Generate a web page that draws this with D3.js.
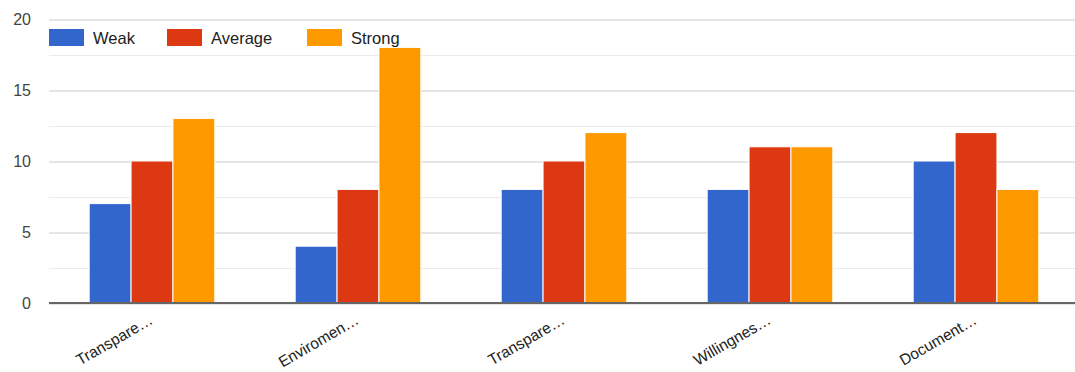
<!DOCTYPE html>
<html>
<head>
<meta charset="utf-8">
<script src="https://cdn.jsdelivr.net/npm/d3@7"></script>
<style>
  html, body { margin: 0; padding: 0; background: #fff; }
  svg { display: block; font-family: Arial, "Liberation Sans", sans-serif; }
</style>
</head>
<body>
<svg id="chart" width="1075" height="372"></svg>
<script>
// Grouped column chart: three rating levels per criterion
const categories = ["Transpare…", "Enviromen…", "Transpare…", "Willingnes…", "Document…"];
const seriesNames = ["Weak", "Average", "Strong"];
const weak = [7, 4, 8, 8, 10];
const average = [10, 8, 10, 11, 12];
const strong = [13, 18, 12, 11, 8];
const yTicks = [0, 5, 10, 15, 20];
const colors = ["#3366cc", "#dc3912", "#ff9900"];

const seriesValues = [weak, average, strong];
const rows = categories.map((c, i) => ({
  key: i,
  label: c,
  values: seriesValues.map((s, j) => ({ series: seriesNames[j], value: s[i], idx: j }))
}));

const svg = d3.select("#chart");
const plot = { left: 49, right: 1079, top: 19, bottom: 303 };

const x0 = d3.scaleBand()
  .domain(rows.map(r => r.key))
  .range([plot.left, plot.right])
  .paddingInner(0.39)
  .paddingOuter(0.195);

const x1 = d3.scaleBand()
  .domain(seriesNames)
  .range([0, x0.bandwidth()])
  .padding(0);

const y = d3.scaleLinear().domain([0, 20]).range([plot.bottom, plot.top]);

// Minor gridlines every 2.5
const minor = d3.range(2.5, 20, 5);
svg.append("g").selectAll("line").data(minor).join("line")
  .attr("x1", plot.left).attr("x2", 1075)
  .attr("y1", d => Math.round(y(d)) + 0.5).attr("y2", d => Math.round(y(d)) + 0.5)
  .attr("stroke", "#ebebeb").attr("stroke-width", 1);

// Major gridlines and labels
const yAxis = d3.axisLeft(y).tickValues(yTicks).tickSize(-(1075 - plot.left)).tickPadding(18);
const gy = svg.append("g").attr("transform", `translate(${plot.left},0)`).call(yAxis);
gy.select(".domain").remove();
gy.selectAll(".tick line").attr("stroke", "#cccccc")
  .attr("transform", "translate(0,0.5)");
gy.selectAll(".tick text")
  .attr("fill", "#444").attr("font-size", 16)
  .attr("font-family", "Arial, 'Liberation Sans', sans-serif");

// Bars
const groups = svg.append("g").selectAll("g").data(rows).join("g")
  .attr("transform", d => `translate(${x0(d.key)},0)`);
groups.selectAll("rect").data(d => d.values).join("rect")
  .attr("x", d => x1(d.series))
  .attr("y", d => y(d.value))
  .attr("width", x1.bandwidth())
  .attr("height", d => y(0) - y(d.value))
  .attr("fill", d => colors[d.idx])
  .attr("stroke", "#fff").attr("stroke-width", 1);

// Baseline
svg.append("line")
  .attr("x1", plot.left).attr("x2", 1075)
  .attr("y1", y(0)).attr("y2", y(0))
  .attr("stroke", "#666").attr("stroke-width", 2);

// Category labels, rotated
const xAxis = d3.axisBottom(x0).tickFormat(k => categories[k]).tickSize(0).tickPadding(0);
const gx = svg.append("g").attr("transform", `translate(0,${plot.bottom})`).call(xAxis);
gx.select(".domain").remove();
gx.selectAll(".tick text")
  .attr("fill", "#222").attr("font-size", 15.5)
  .attr("font-family", "Arial, 'Liberation Sans', sans-serif")
  .attr("text-anchor", "end")
  .attr("dy", null)
  .attr("transform", "translate(2,20) rotate(-30)");

// Legend
const legendX = [49, 167, 307];
const legend = svg.append("g").selectAll("g").data(seriesNames).join("g")
  .attr("transform", (d, i) => `translate(${legendX[i]},29)`);
legend.append("rect")
  .attr("width", 35).attr("height", 17)
  .attr("fill", (d, i) => colors[i]);
legend.append("text")
  .attr("x", 44).attr("y", 15)
  .attr("font-size", 16.5).attr("fill", "#222")
  .text(d => d);
</script>
</body>
</html>
